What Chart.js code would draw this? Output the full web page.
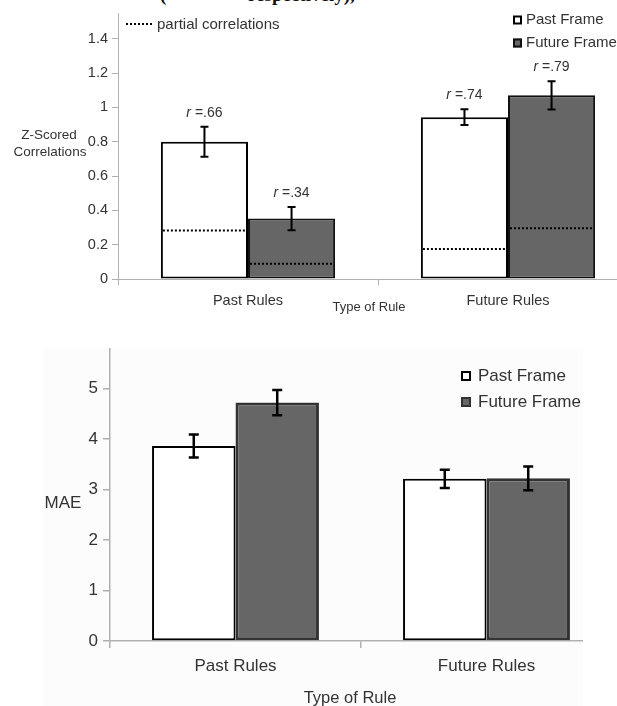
<!DOCTYPE html>
<html>
<head>
<meta charset="utf-8">
<script src="https://cdn.jsdelivr.net/npm/chart.js@4.4.1/dist/chart.umd.min.js"></script>
<style>
  html, body { margin: 0; padding: 0; background: #fff; width: 617px; height: 706px; overflow: hidden; position: relative; }
  .cut { position: absolute; top: -15px; font: bold 19px "Liberation Serif", serif; color: #111; line-height: 1; white-space: pre; }
  #topWrap { position: absolute; left: 0; top: 0; width: 617px; height: 320px; overflow: hidden; }
  #botWrap { position: absolute; left: 0; top: 330px; width: 583px; height: 376px; overflow: hidden; }
  #botBg { position: absolute; left: 43px; top: 18px; right: 0; bottom: 0; background: #fcfcfc; }
  canvas { position: absolute; left: 0; top: 0; }
</style>
</head>
<body>
<div class="cut" style="left:160px">(</div>
<div class="cut" style="left:248px">respectively),</div>

<div id="topWrap"><canvas id="top" width="660" height="320"></canvas></div>
<div id="botWrap"><div id="botBg"></div><canvas id="bot" width="630" height="376"></canvas></div>

<script>
// data
const categories = ["Past Rules", "Future Rules"];
const seriesNames = ["Past Frame", "Future Frame"];

// top panel: z-scored correlations
const zPast = [0.80, 0.943];
const zFuture = [0.352, 1.07];
const zPastErr = [0.087, 0.046];
const zFutureErr = [0.068, 0.083];
const partialPast = [0.282, 0.175];
const partialFuture = [0.089, 0.296];
const rPast = [".66", ".74"];
const rFuture = [".34", ".79"];

// bottom panel: MAE
const maePast = [3.86, 3.21];
const maeFuture = [4.72, 3.22];
const maePastErr = [0.23, 0.18];
const maeFutureErr = [0.25, 0.235];

const FONT = '"Liberation Sans", Arial, sans-serif';
const AXIS = '#b0b0b0';
const TXT = '#333';

// error bars, partial correlation lines, r labels, legend and loose texts
const extras = {
  id: 'extras',
  afterDatasetsDraw(chart, args, o) {
    const ctx = chart.ctx, y = chart.scales.y;
    ctx.save();
    chart.data.datasets.forEach((ds, di) => {
      const meta = chart.getDatasetMeta(di);
      meta.data.forEach((bar, i) => {
        const v = ds.data[i];
        const half = bar.width / 2;
        if (o.partial) {
          const py = y.getPixelForValue(o.partial[di][i]);
          ctx.strokeStyle = '#000';
          ctx.lineWidth = 2;
          ctx.setLineDash([2, 2]);
          ctx.beginPath();
          ctx.moveTo(bar.x - half + 2, py);
          ctx.lineTo(bar.x + half - 1, py);
          ctx.stroke();
          ctx.setLineDash([]);
        }
        const e = o.errors[di][i];
        const t = y.getPixelForValue(v + e), b = y.getPixelForValue(v - e);
        ctx.strokeStyle = '#000';
        ctx.lineWidth = o.errWidth;
        ctx.beginPath();
        ctx.moveTo(bar.x, t); ctx.lineTo(bar.x, b);
        ctx.moveTo(bar.x - o.cap / 2, t); ctx.lineTo(bar.x + o.cap / 2, t);
        ctx.moveTo(bar.x - o.cap / 2, b); ctx.lineTo(bar.x + o.cap / 2, b);
        ctx.stroke();
        if (o.rLabels) {
          const lab = ' =' + o.rLabels[di][i];
          ctx.font = 'italic 14px ' + FONT;
          const w1 = ctx.measureText('r').width;
          ctx.font = '14px ' + FONT;
          const w2 = ctx.measureText(lab).width;
          const x0 = bar.x - (w1 + w2) / 2, ly = t - 14;
          ctx.fillStyle = TXT;
          ctx.textBaseline = 'middle';
          ctx.textAlign = 'left';
          ctx.font = 'italic 14px ' + FONT;
          ctx.fillText('r', x0, ly);
          ctx.font = '14px ' + FONT;
          ctx.fillText(lab, x0 + w1, ly);
        }
      });
    });

    // legend boxes
    const L = o.legend;
    ctx.textAlign = 'left';
    ctx.textBaseline = 'middle';
    chart.data.datasets.forEach((ds, di) => {
      const cy = L.y + di * L.dy;
      ctx.fillStyle = ds.backgroundColor;
      ctx.fillRect(L.x, cy - L.box / 2, L.box, L.box);
      ctx.strokeStyle = ds.borderColor;
      ctx.lineWidth = 2;
      ctx.strokeRect(L.x + 1, cy - L.box / 2 + 1, L.box - 2, L.box - 2);
      ctx.fillStyle = TXT;
      ctx.font = L.font;
      ctx.fillText(ds.label, L.x + L.box + L.gap, cy);
    });

    if (o.partialKey) {
      const k = o.partialKey;
      ctx.strokeStyle = '#000';
      ctx.lineWidth = 2;
      ctx.setLineDash([2, 2]);
      ctx.beginPath();
      ctx.moveTo(k.x0, k.y); ctx.lineTo(k.x1, k.y);
      ctx.stroke();
      ctx.setLineDash([]);
      ctx.fillStyle = TXT;
      ctx.font = k.font;
      ctx.fillText(k.text, k.x1 + 4, k.y + 1);
    }

    (o.texts || []).forEach(tx => {
      ctx.fillStyle = TXT;
      ctx.font = tx.font;
      ctx.textAlign = 'center';
      ctx.textBaseline = 'middle';
      ctx.fillText(tx.text, tx.x, tx.y);
    });
    ctx.restore();
  }
};

function keepSteps(step) {
  return axis => {
    axis.ticks = axis.ticks.filter(t => Math.abs(t.value / step - Math.round(t.value / step)) < 1e-6);
  };
}

// ---- top chart ----
new Chart(document.getElementById('top'), {
  type: 'bar',
  data: {
    labels: categories,
    datasets: [
      { label: seriesNames[0], data: zPast, backgroundColor: '#ffffff', borderColor: '#000000', borderWidth: 2, borderSkipped: false },
      { label: seriesNames[1], data: zFuture, backgroundColor: '#666666', borderColor: '#111111', borderWidth: 2, borderSkipped: false }
    ]
  },
  options: {
    responsive: false,
    animation: false,
    devicePixelRatio: 1,
    layout: { padding: { top: 13, right: 22, left: 0, bottom: 0 } },
    datasets: { bar: { categoryPercentage: 0.67, barPercentage: 1 } },
    plugins: {
      legend: { display: false },
      tooltip: { enabled: false },
      extras: {
        errors: [zPastErr, zFutureErr],
        partial: [partialPast, partialFuture],
        rLabels: [rPast, rFuture],
        cap: 8, errWidth: 2,
        legend: { x: 513, y: 20, dy: 23, box: 9, gap: 4, font: '15px ' + FONT },
        partialKey: { x0: 126, x1: 153, y: 24, text: 'partial correlations', font: '15px ' + FONT },
        texts: [
          { text: 'Z-Scored', x: 49, y: 135, font: '13.5px ' + FONT },
          { text: 'Correlations', x: 50, y: 152, font: '13.5px ' + FONT },
          { text: 'Type of Rule', x: 369, y: 307, font: '13px ' + FONT }
        ]
      }
    },
    scales: {
      x: {
        afterFit: s => { s.height = 41; },
        grid: { drawOnChartArea: false, tickLength: 6, color: AXIS },
        border: { color: AXIS },
        ticks: { font: { family: FONT, size: 14.5 }, color: TXT, padding: 7 }
      },
      y: {
        min: 0, max: 1.55,
        afterFit: s => { s.width = 118; },
        afterBuildTicks: keepSteps(0.2),
        grid: { drawOnChartArea: false, tickLength: 6, color: AXIS },
        border: { color: AXIS },
        ticks: { stepSize: 0.2, font: { family: FONT, size: 14.5 }, color: TXT, padding: 4,
                 callback: v => Math.round(v * 10) / 10 }
      }
    }
  },
  plugins: [extras]
});

// ---- bottom chart ----
new Chart(document.getElementById('bot'), {
  type: 'bar',
  data: {
    labels: categories,
    datasets: [
      { label: seriesNames[0], data: maePast, backgroundColor: '#ffffff', borderColor: '#000000', borderWidth: 2, borderSkipped: false },
      { label: seriesNames[1], data: maeFuture, backgroundColor: '#666666', borderColor: '#333333', borderWidth: 3, borderSkipped: false }
    ]
  },
  options: {
    responsive: false,
    animation: false,
    devicePixelRatio: 1,
    layout: { padding: { top: 19, right: 18, left: 0, bottom: 0 } },
    datasets: { bar: { categoryPercentage: 0.665, barPercentage: 1 } },
    plugins: {
      legend: { display: false },
      tooltip: { enabled: false },
      extras: {
        errors: [maePastErr, maeFutureErr],
        cap: 10, errWidth: 2.5,
        legend: { x: 461, y: 46, dy: 26, box: 10, gap: 7, font: '17px ' + FONT },
        texts: [
          { text: 'MAE', x: 63, y: 173, font: '17px ' + FONT },
          { text: 'Type of Rule', x: 350, y: 368, font: '16.5px ' + FONT }
        ]
      }
    },
    scales: {
      x: {
        afterFit: s => { s.height = 65; },
        grid: { drawOnChartArea: false, tickLength: 7, color: AXIS, lineWidth: 1.5 },
        border: { color: AXIS, width: 1.5 },
        ticks: { font: { family: FONT, size: 17 }, color: TXT, padding: 8 }
      },
      y: {
        min: 0, max: 5.78,
        afterFit: s => { s.width = 110; },
        afterBuildTicks: keepSteps(1),
        grid: { drawOnChartArea: false, tickLength: 7, color: AXIS, lineWidth: 1.5 },
        border: { color: AXIS, width: 1.5 },
        ticks: { stepSize: 1, font: { family: FONT, size: 17 }, color: TXT, padding: 5 }
      }
    }
  },
  plugins: [extras]
});
</script>
</body>
</html>
